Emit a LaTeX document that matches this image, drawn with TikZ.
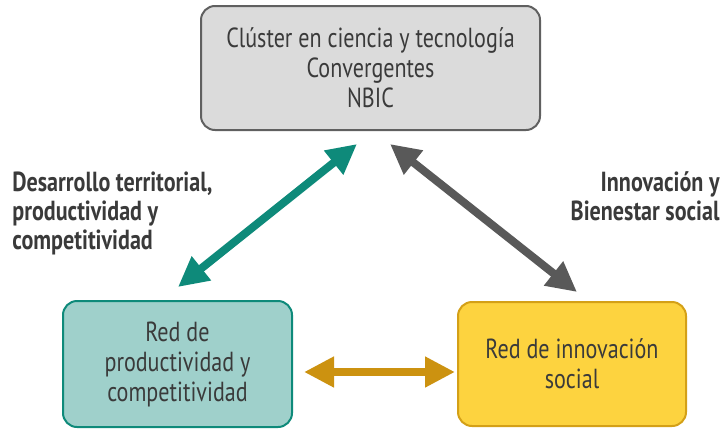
\documentclass[tikz,border=0pt]{standalone}
\usepackage{fontspec}
\setmainfont{PT Sans}[FakeStretch=0.8]
\usepackage{tikz}
\usetikzlibrary{positioning,arrows.meta,calc}
\usepackage{xcolor}
\definecolor{inkGray}{HTML}{3A3A3A}
\definecolor{tealDark}{HTML}{0E8A7A}
\definecolor{tealLight}{HTML}{9FD0CB}
\definecolor{goldDark}{HTML}{CC9210}
\definecolor{goldLight}{HTML}{FDD33F}
\definecolor{goldLine}{HTML}{D4A017}

\begin{document}
\begin{tikzpicture}[
    x=0.5pt, y=-0.5pt,
    boxCard/.style={rectangle, rounded corners=7pt, line width=1pt, font=\fontsize{13.8}{15}\selectfont, text=inkGray, align=center, inner sep=0pt},
    sideLabel/.style={font=\fontsize{13.8}{14.5}\selectfont\bfseries, text=inkGray, inner sep=0pt},
    fatArrow/.style={{Triangle[length=15pt,width=14.5pt]}-{Triangle[length=15pt,width=14.5pt]}, line width=4pt}
]
    \useasboundingbox (0,0) rectangle (726,428);

    \node[boxCard, draw=gray!75!black, fill=gray!28, minimum width=169.5pt, minimum height=62pt] (cluster) at (370.5, 68) {
        Clúster en ciencia y tecnología\\
        Convergentes\\
        NBIC
    };

    \node[boxCard, draw=tealDark, fill=tealLight, minimum width=114.5pt, minimum height=63pt] (prodNet) at (177.5, 364) {
        Red de\\
        productividad y\\
        competitividad
    };

    \node[boxCard, draw=goldLine, fill=goldLight, minimum width=114pt, minimum height=62pt] (innoNet) at (572, 364) {
        Red de innovación\\
        social
    };

    \node[sideLabel, align=left, anchor=north west] (devLabel) at (12, 171) {
        Desarrollo territorial,\\
        productividad y\\
        competitividad
    };

    \node[sideLabel, align=right, anchor=north east] (socLabel) at (720, 171) {
        Innovación y\\
        Bienestar social
    };

    \draw[fatArrow, draw=tealDark, fill=tealDark] ($(prodNet.north)+(0.5,-13)$) -- ($(cluster.south)+(-13.5,13)$);
    \draw[fatArrow, draw=gray!70!black, fill=gray!70!black] ($(cluster.south)+(19.5,13)$) -- ($(innoNet.north)+(5,-9)$);
    \draw[fatArrow, draw=goldDark, fill=goldDark] ($(prodNet.east)+(11,8)$) -- ($(innoNet.west)+(-2,8)$);
\end{tikzpicture}
\end{document}
